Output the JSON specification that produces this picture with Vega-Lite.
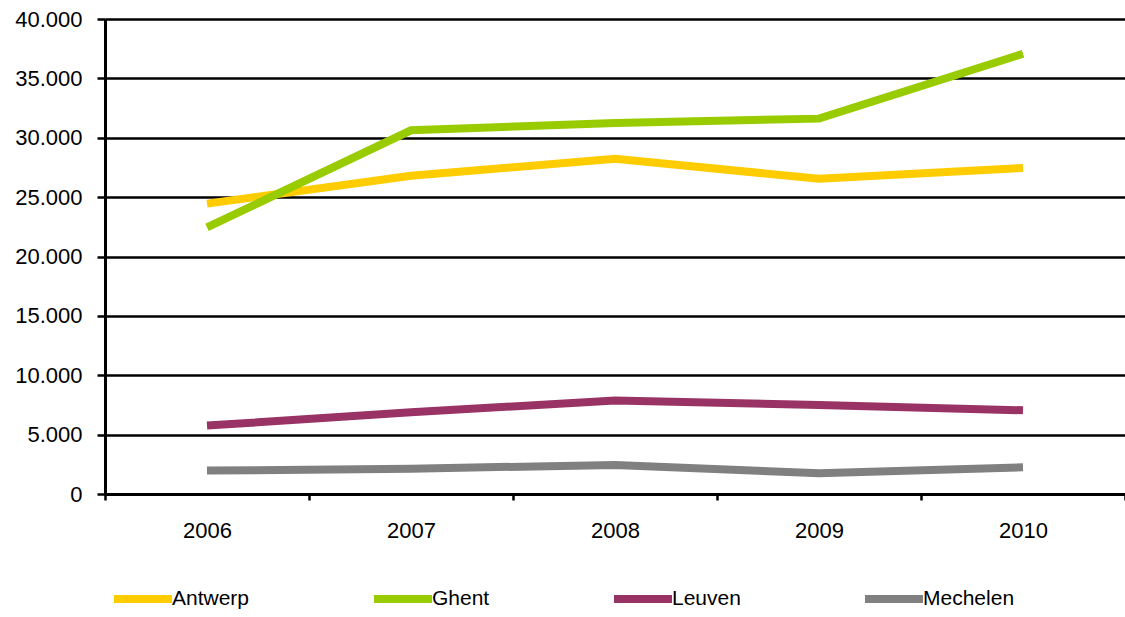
{
  "$schema": "https://vega.github.io/schema/vega-lite/v6.json",
  "width": 1020,
  "height": 475,
  "autosize": {"type": "none"},
  "padding": {"left": 105, "top": 19, "right": 0, "bottom": 123},
  "background": "white",
  "config": {
    "view": {"stroke": null},
    "font": "Liberation Sans",
    "axis": {"labelFont": "Liberation Sans", "labelColor": "black", "labelFontSize": 22, "title": null}
  },
  "data": {
    "values": [
      {"year": "2006", "city": "Antwerp", "value": 24450},
      {"year": "2007", "city": "Antwerp", "value": 26800},
      {"year": "2008", "city": "Antwerp", "value": 28220},
      {"year": "2009", "city": "Antwerp", "value": 26550},
      {"year": "2010", "city": "Antwerp", "value": 27460},
      {"year": "2006", "city": "Ghent", "value": 22450},
      {"year": "2007", "city": "Ghent", "value": 30630},
      {"year": "2008", "city": "Ghent", "value": 31250},
      {"year": "2009", "city": "Ghent", "value": 31610},
      {"year": "2010", "city": "Ghent", "value": 37070},
      {"year": "2006", "city": "Leuven", "value": 5760},
      {"year": "2007", "city": "Leuven", "value": 6880},
      {"year": "2008", "city": "Leuven", "value": 7870},
      {"year": "2009", "city": "Leuven", "value": 7500},
      {"year": "2010", "city": "Leuven", "value": 7050},
      {"year": "2006", "city": "Mechelen", "value": 1970},
      {"year": "2007", "city": "Mechelen", "value": 2130},
      {"year": "2008", "city": "Mechelen", "value": 2450},
      {"year": "2009", "city": "Mechelen", "value": 1740},
      {"year": "2010", "city": "Mechelen", "value": 2250}
    ]
  },
  "mark": {"type": "line", "strokeWidth": 8, "strokeCap": "butt", "strokeJoin": "miter"},
  "encoding": {
    "x": {
      "field": "year",
      "type": "ordinal",
      "scale": {"type": "band", "paddingInner": 0, "paddingOuter": 0},
      "axis": {
        "labelAngle": 0,
        "domainColor": "black",
        "domainWidth": 3,
        "tickColor": "black",
        "tickWidth": 2.5,
        "tickSize": 6,
        "tickBand": "extent",
        "labelPadding": 20,
        "grid": false
      }
    },
    "y": {
      "field": "value",
      "type": "quantitative",
      "scale": {"domain": [0, 40000], "nice": false},
      "axis": {
        "values": [0, 5000, 10000, 15000, 20000, 25000, 30000, 35000, 40000],
        "labelExpr": "replace(format(datum.value, ','), ',', '.')",
        "domainColor": "black",
        "domainWidth": 3,
        "tickColor": "black",
        "tickWidth": 2.5,
        "tickSize": 8,
        "grid": true,
        "gridColor": "black",
        "gridWidth": 2.5,
        "labelPadding": 15
      }
    },
    "color": {
      "field": "city",
      "type": "nominal",
      "scale": {
        "domain": ["Antwerp", "Ghent", "Leuven", "Mechelen"],
        "range": ["#FFCC00", "#99CC00", "#993366", "#808080"]
      },
      "legend": {
        "title": null,
        "orient": "none",
        "legendX": 5,
        "legendY": 547,
        "direction": "horizontal",
        "symbolType": "stroke",
        "symbolStrokeWidth": 8,
        "symbolSize": 3364,
        "labelFont": "Liberation Sans",
        "labelFontSize": 21,
        "labelColor": "black",
        "labelOffset": -4,
        "columnPadding": 108,
        "padding": 0,
        "gridAlign": "each"
      }
    }
  }
}
